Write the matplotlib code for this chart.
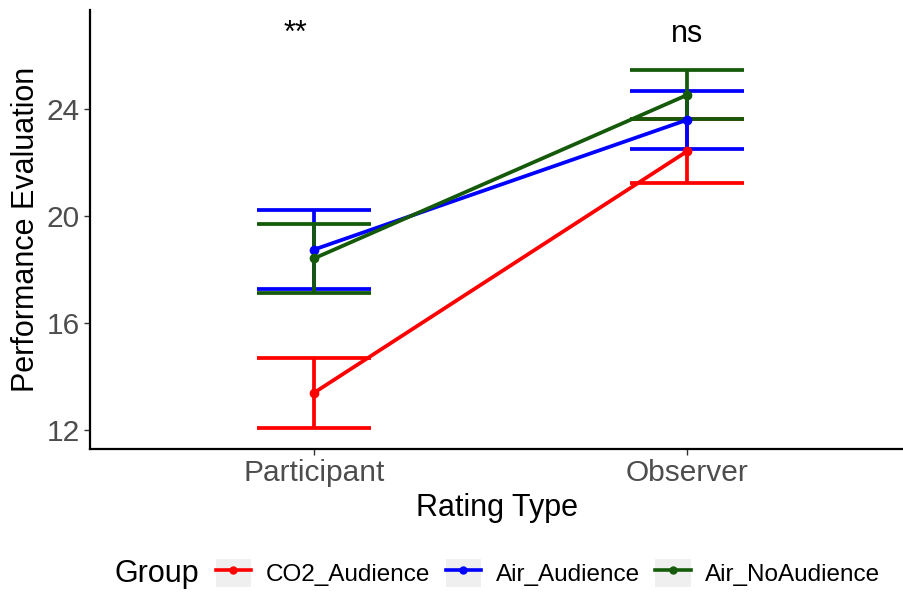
import matplotlib.pyplot as plt
from matplotlib.patches import Rectangle
from matplotlib.lines import Line2D
from matplotlib.legend_handler import HandlerTuple

plt.rcParams['font.family'] = ['Liberation Sans', 'DejaVu Sans']

rating_types = ['Participant', 'Observer']
groups = ['CO2_Audience', 'Air_Audience', 'Air_NoAudience']
colors = ['#FF0000', '#0000FF', '#145A0A']

# group means and standard errors per rating type
means = {
    'CO2_Audience': [13.4, 22.43],
    'Air_Audience': [18.75, 23.6],
    'Air_NoAudience': [18.42, 24.53],
}
errors = {
    'CO2_Audience': [1.3, 1.18],
    'Air_Audience': [1.48, 1.09],
    'Air_NoAudience': [1.29, 0.92],
}
signif = ['**', 'ns']

fig = plt.figure(figsize=(9.04, 5.92), dpi=100)
ax = fig.add_axes([90 / 904, 1 - 449 / 592, 814 / 904, 439 / 592])

x = [1, 2]
for g, c in zip(groups, colors):
    ax.errorbar(x, means[g], yerr=errors[g], color=c, lw=2.7,
                capsize=41, capthick=2.7, marker='o', ms=6, zorder=3)

for xi, s in zip(x, signif):
    ax.text(xi - (0.05 if s == '**' else 0), 26.5, s, ha='center', va='baseline',
            fontsize=22, color='black')

ax.set_xlim(0.4, 2.58)
ax.set_ylim(11.3, 27.7)
ax.set_xticks(x)
ax.set_xticklabels(rating_types)
ax.set_yticks([12, 16, 20, 24])
ax.tick_params(axis='both', labelsize=21.5, labelcolor='#4D4D4D', color='#333333',
               length=4, width=1)
ax.set_xlabel('Rating Type', fontsize=22, labelpad=4)
ax.set_ylabel('Performance Evaluation', fontsize=22, labelpad=4)
for side in ['top', 'right']:
    ax.spines[side].set_visible(False)
for side in ['left', 'bottom']:
    ax.spines[side].set_linewidth(1.6)
    ax.spines[side].set_color('black')

handles = []
for c in colors:
    bg = Rectangle((0, 0), 1, 1, facecolor='#EFEFEF', edgecolor='none')
    ln = Line2D([], [], color=c, lw=2.6, marker='o', ms=5)
    handles.append((bg, ln))
fig.text(115 / 904, 1 - 574 / 592, 'Group', fontsize=22, va='center', ha='left')
fig.legend(handles, groups, handler_map={tuple: HandlerTuple(ndivide=1, pad=0)},
           loc='center left', bbox_to_anchor=(206 / 904, 1 - 573 / 592), ncol=3,
           frameon=False, fontsize=17.5, handlelength=1.45, handleheight=1.45,
           handletextpad=0.6, columnspacing=0.65, borderaxespad=0)

fig.savefig('out.png', dpi=100)
